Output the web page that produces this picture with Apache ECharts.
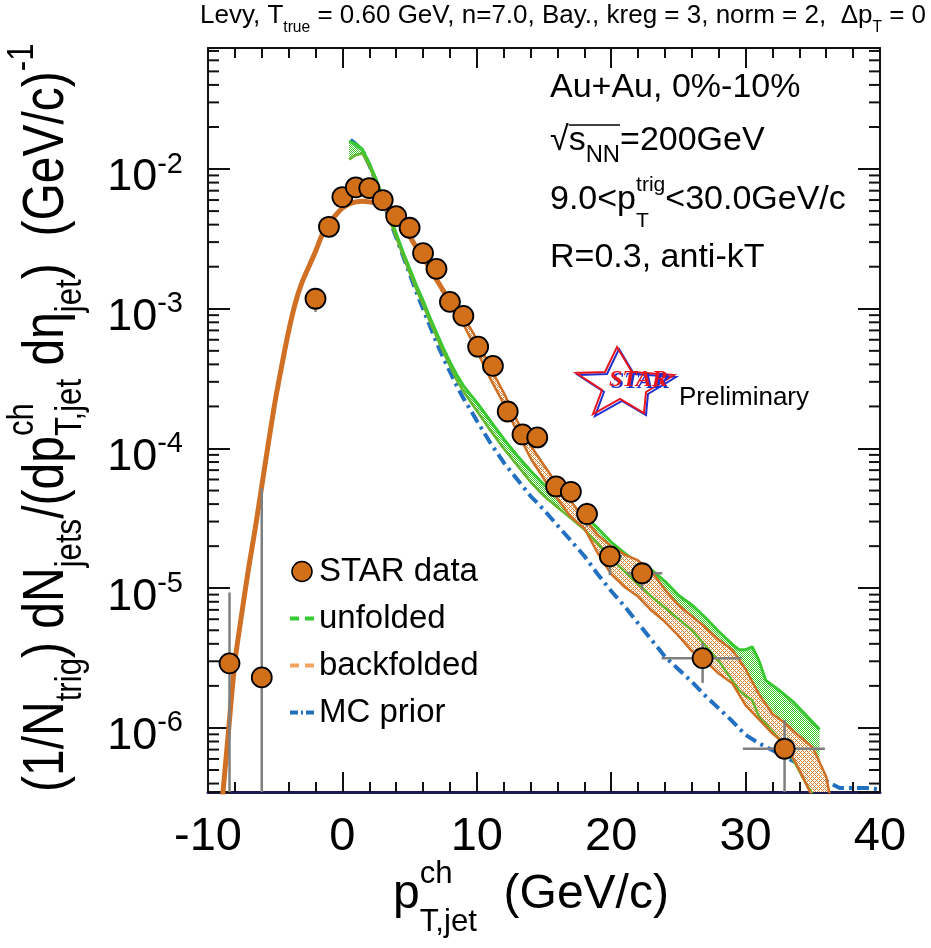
<!DOCTYPE html>
<html>
<head>
<meta charset="utf-8">
<title>STAR jet spectrum unfolding</title>
<script src="https://cdn.jsdelivr.net/npm/echarts@6.0.0/dist/echarts.min.js"></script>
<style>
html,body{margin:0;padding:0;background:#ffffff;}
#chart{width:931px;height:948px;}
</style>
</head>
<body>
<div id="chart"></div>
<script>
// ---------------- values ----------------
const xMin = -10, xMax = 40, xStep = 10;
const yMin = 3.48e-7, yMax = 7.35e-2;
const yTickExponents = [-6, -5, -4, -3, -2];

// STAR data points
const dataX = [-8.4, -6.0, -2.0, -1.0, 0.0, 1.0, 2.0, 3.0, 4.0, 5.0, 6.0, 7.0, 8.0, 9.0, 10.1, 11.2, 12.3, 13.4, 14.5, 15.9, 17.0, 18.2, 19.9, 22.3, 26.8, 32.9];
const dataY = [2.9e-6, 2.3e-6, 1.18e-3, 3.86e-3, 6.3e-3, 7.4e-3, 7.3e-3, 6.0e-3, 4.6e-3, 3.8e-3, 2.5e-3, 1.93e-3, 1.12e-3, 8.9e-4, 5.35e-4, 3.9e-4, 1.84e-4, 1.26e-4, 1.2e-4, 5.35e-5, 4.9e-5, 3.4e-5, 1.69e-5, 1.28e-5, 3.16e-6, 7.1e-7];
const errYLow  = [1e-8, 1e-8, 9.5e-4, null, null, null, null, null, null, null, null, null, null, null, null, null, null, null, null, null, null, 2.75e-5, 1.24e-5, 9.7e-6, 2.1e-6, 1e-8];
const errYHigh = [9.3e-6, 5.2e-5, 1.4e-3, null, null, null, null, null, null, null, null, null, null, null, null, null, null, null, null, null, null, 4.1e-5, 1.97e-5, 1.47e-5, 4.05e-6, 1.14e-6];
const errXLow  = [null, null, null, null, null, null, null, null, null, null, null, null, null, null, null, null, null, null, null, null, null, null, 19.1, 21.2, 23.75, 29.8];
const errXHigh = [null, null, null, null, null, null, null, null, null, null, null, null, null, null, null, null, null, null, null, null, null, null, 20.8, 23.8, 29.7, 35.9];

// backfolded: central curve
const backX = [-9.0, -8.5, -8.0, -7.5, -7.0, -6.5, -6.0, -5.5, -5.0, -4.5, -4.0, -3.5, -3.0, -2.5, -2.0, -1.5, -1.0, -0.5, 0.0, 0.5, 1.0, 1.5, 2.0, 2.5, 3.0, 3.5, 4.0, 4.5, 5.0, 5.5, 6.0, 6.5, 7.0, 7.5, 8.0, 8.5, 9.0];
const backY = [2.63e-7, 8.91e-7, 2.95e-6, 6.46e-6, 1.35e-5, 2.63e-5, 5.37e-5, 1.10e-4, 2.19e-4, 3.98e-4, 6.92e-4, 1.10e-3, 1.55e-3, 2.00e-3, 2.57e-3, 3.39e-3, 4.07e-3, 4.68e-3, 5.25e-3, 5.62e-3, 5.82e-3, 5.89e-3, 5.82e-3, 5.69e-3, 5.37e-3, 5.01e-3, 4.47e-3, 3.89e-3, 3.31e-3, 2.75e-3, 2.34e-3, 1.95e-3, 1.62e-3, 1.35e-3, 1.15e-3, 9.55e-4, 8.32e-4];
// backfolded: uncertainty band
const bandX    = [9, 10, 11, 12, 13, 14, 15, 16, 17, 18, 19, 20, 21, 22, 23, 24, 25, 26, 27, 28, 29, 30, 31, 32, 33, 34, 35, 36, 36.5];
const bandHigh = [8.91e-4, 6.03e-4, 3.80e-4, 2.51e-4, 1.58e-4, 1.05e-4, 7.59e-5, 5.50e-5, 4.17e-5, 3.16e-5, 2.40e-5, 2.00e-5, 1.74e-5, 1.58e-5, 1.32e-5, 9.77e-6, 7.59e-6, 6.31e-6, 5.25e-6, 4.27e-6, 3.63e-6, 2.63e-6, 1.74e-6, 1.26e-6, 1.07e-6, 8.71e-7, 7.24e-7, 4.47e-7, 2.51e-7];
const bandLow  = [7.76e-4, 5.01e-4, 3.16e-4, 2.09e-4, 1.32e-4, 8.51e-5, 6.03e-5, 4.37e-5, 3.24e-5, 2.69e-5, 1.78e-5, 1.26e-5, 1.02e-5, 8.71e-6, 6.92e-6, 5.75e-6, 4.57e-6, 3.55e-6, 3.02e-6, 2.45e-6, 2.09e-6, 1.45e-6, 1.15e-6, 9.12e-7, 7.59e-7, 5.01e-7, 3.16e-7, 2.00e-7, 1.58e-7];

// unfolded band
const unfX    = [0.5, 1, 1.5, 2, 2.5, 3, 3.5, 4, 4.5, 5, 5.5, 6, 6.5, 7, 7.5, 8, 8.5, 9, 9.5, 10, 11, 12, 13, 14, 15, 16, 17, 18, 19, 20, 21, 22, 23, 24, 25, 26, 27, 28, 29, 29.5, 30, 30.5, 31, 31.5, 32.5, 33.5, 34.5, 35.5];
const unfHigh = [1.58e-2, 1.51e-2, 1.38e-2, 1.10e-2, 8.51e-3, 6.31e-3, 4.68e-3, 3.47e-3, 2.57e-3, 1.95e-3, 1.48e-3, 1.15e-3, 8.71e-4, 6.76e-4, 5.25e-4, 4.17e-4, 3.39e-4, 2.82e-4, 2.45e-4, 2.14e-4, 1.58e-4, 1.17e-4, 8.91e-5, 6.92e-5, 5.50e-5, 4.68e-5, 3.80e-5, 3.31e-5, 2.69e-5, 2.14e-5, 1.78e-5, 1.51e-5, 1.35e-5, 1.12e-5, 8.91e-6, 7.59e-6, 6.17e-6, 4.90e-6, 3.98e-6, 3.63e-6, 3.63e-6, 3.80e-6, 3.02e-6, 2.19e-6, 1.86e-6, 1.55e-6, 1.23e-6, 9.77e-7];
const unfLow  = [1.17e-2, 1.26e-2, 1.29e-2, 1.05e-2, 7.94e-3, 5.89e-3, 4.37e-3, 3.24e-3, 2.40e-3, 1.82e-3, 1.38e-3, 1.07e-3, 8.13e-4, 6.31e-4, 4.90e-4, 3.89e-4, 3.09e-4, 2.57e-4, 2.19e-4, 1.86e-4, 1.35e-4, 1.00e-4, 7.59e-5, 5.75e-5, 4.57e-5, 3.80e-5, 3.16e-5, 2.63e-5, 2.09e-5, 1.62e-5, 1.32e-5, 1.07e-5, 8.71e-6, 7.24e-6, 6.03e-6, 5.01e-6, 3.89e-6, 3.02e-6, 2.19e-6, 1.86e-6, 1.70e-6, 1.58e-6, 1.20e-6, 1.07e-6, 8.32e-7, 6.03e-7, 3.98e-7, 2.82e-7];

// MC prior
const mcX = [0.6, 1, 1.5, 2, 2.5, 3, 3.5, 4, 4.5, 5, 5.5, 6, 6.5, 7, 7.5, 8, 8.5, 9, 9.5, 10, 11, 12, 13, 14, 15, 16, 17, 18, 19, 20, 21, 22, 23, 24, 25, 26, 27, 28, 29, 30, 31, 32, 33, 34, 35, 36, 37, 38, 39, 40];
const mcY = [1.62e-2, 1.51e-2, 1.35e-2, 1.07e-2, 8.13e-3, 6.03e-3, 4.37e-3, 3.24e-3, 2.40e-3, 1.78e-3, 1.32e-3, 1.00e-3, 7.59e-4, 5.75e-4, 4.47e-4, 3.55e-4, 2.82e-4, 2.29e-4, 1.91e-4, 1.58e-4, 1.10e-4, 7.94e-5, 6.03e-5, 4.57e-5, 3.63e-5, 2.82e-5, 2.19e-5, 1.70e-5, 1.26e-5, 9.55e-6, 7.41e-6, 5.62e-6, 4.27e-6, 3.24e-6, 2.63e-6, 2.14e-6, 1.70e-6, 1.38e-6, 1.12e-6, 8.91e-7, 7.76e-7, 6.92e-7, 6.17e-7, 5.50e-7, 4.79e-7, 4.17e-7, 3.72e-7, 3.72e-7, 3.72e-7, 3.63e-7];

// texts
const legendNames = ['STAR data', 'unfolded', 'backfolded', 'MC prior'];
const infoLine1 = 'Au+Au, 0%-10%';
const infoLine4 = 'R=0.3, anti-kT';

// ---------------- styling helpers ----------------
const FF = '"Liberation Sans", Arial, Helvetica, sans-serif';
const C_ORANGE = '#cf7024', C_DATA = '#d2701a', C_GREEN = '#38c830', C_BLUE = '#2170c2';
const mctx = document.createElement('canvas').getContext('2d');
function tw(t, size) { mctx.font = size + 'px ' + FF; return mctx.measureText(t).width; }

function mathGroup(pieces, F, x, y, rot, sy) {
  const ch = [];
  let cx = 0;
  const mk = (t, s, dy, atX) => {
    const size = F * s;
    ch.push({ type: 'text', x: atX, y: dy * F - 0.35 * size,
      style: { text: t, font: size + 'px ' + FF, fill: '#000', align: 'left', verticalAlign: 'middle', textAlign: 'left', textVerticalAlign: 'middle' } });
    return tw(t, size);
  };
  pieces.forEach(p => {
    if (p.stack) { let w = 0; p.stack.forEach(q => { w = Math.max(w, mk(q.t, q.s, q.dy, cx)); }); cx += w; }
    else { cx += mk(p.t, p.s || 1, p.dy || 0, cx); }
  });
  return { type: 'group', x: x, y: y, rotation: rot || 0, scaleY: sy || 1, children: ch, silent: true };
}

function pattern(color, kind) {
  const c = document.createElement('canvas'); c.width = 4; c.height = 4;
  const g = c.getContext('2d'); g.fillStyle = color;
  for (let yy = 0; yy < 4; yy++) for (let xx = 0; xx < 4; xx++) {
    if (kind === 'dots' ? ((xx + yy) % 2 === 0) : ((xx + yy) % 4 === 0 || (xx - yy + 4) % 4 === 0)) g.fillRect(xx, yy, 1, 1);
  }
  return { image: c, repeat: 'repeat' };
}
const greenFill = pattern('rgb(60,200,45)', 'dots');
const orangeFill = pattern('rgb(215,130,55)', 'cross');

function bandRenderer(xs, hi, lo, fill, opaque) {
  return function (params, api) {
    if (params.dataIndex !== 0) return null;
    const pts = [];
    for (let i = 0; i < xs.length; i++) pts.push(api.coord([xs[i], hi[i]]));
    for (let i = xs.length - 1; i >= 0; i--) pts.push(api.coord([xs[i], lo[i]]));
    const kids = [];
    if (opaque) kids.push({ type: 'polygon', shape: { points: pts }, style: { fill: '#ffffff', stroke: null } });
    kids.push({ type: 'polygon', shape: { points: pts }, style: { fill: fill, stroke: null } });
    return { type: 'group', children: kids };
  };
}
const pairs = (xs, ys) => xs.map((x, i) => [x, ys[i]]);

const minorTickVals = [];
for (let e = -7; e <= -2; e++) for (let m = 2; m <= 9; m++) {
  const v = m * Math.pow(10, e);
  if (v > yMin && v < yMax) minorTickVals.push(v);
}

// ---------------- annotations ----------------
const title = mathGroup([{ t: 'Levy, T' }, { t: 'true', s: 0.6, dy: 0.32 }, { t: ' = 0.60 GeV, n=7.0, Bay., kreg = 3, norm = 2,  Δp' }, { t: 'T', s: 0.6, dy: 0.32 }, { t: ' = 0' }], 26, 200, 25);
const info1 = mathGroup([{ t: infoLine1 }], 34, 550, 100);
const info2 = mathGroup([{ t: '√' }, { t: 's' }, { t: 'NN', s: 0.7, dy: 0.33 }, { t: '=200GeV' }], 34, 550, 153);
const sqrtX0 = 550 + tw('√', 34), sqrtX1 = sqrtX0 + tw('s', 34) + tw('NN', 34 * 0.7);
const info3 = mathGroup([{ t: '9.0<p' }, { stack: [{ t: 'trig', s: 0.62, dy: -0.56 }, { t: 'T', s: 0.62, dy: 0.5 }] }, { t: '<30.0GeV/c' }], 34, 550, 212);
const info4 = mathGroup([{ t: infoLine4 }], 34, 550, 270);
const xTitle = mathGroup([{ t: 'p' }, { stack: [{ t: 'ch', s: 0.65, dy: -0.55 }, { t: 'T,jet', s: 0.65, dy: 0.45 }] }, { t: '  (GeV/c)' }], 48, 393, 912);
const yTitle = mathGroup([
  { t: '(1/N' }, { t: 'trig', s: 0.65, dy: 0.3 }, { t: ') dN' }, { t: 'jets', s: 0.65, dy: 0.3 }, { t: '/(dp' },
  { stack: [{ t: 'ch', s: 0.65, dy: -0.55 }, { t: 'T,jet', s: 0.65, dy: 0.3 }] }, { t: ' dη' }, { t: 'jet', s: 0.65, dy: 0.3 },
  { t: ')  (GeV/c)' }, { t: '-1', s: 0.65, dy: -0.55 }], 48, 67, 792, Math.PI / 2, 1.2);

const starOuter = [[617, 347], [632, 372], [674, 375], [646, 392], [644, 413], [620, 399], [593, 414], [602, 390], [576, 373], [605, 372]];
const starFont = 'italic bold 24px "Liberation Serif", serif';
const starGraphics = [
  { type: 'polygon', shape: { points: starOuter.map(p => [p[0] + 2, p[1] + 2]) }, style: { fill: null, stroke: '#1f2fd0', lineWidth: 2 }, silent: true },
  { type: 'polygon', shape: { points: starOuter }, style: { fill: null, stroke: '#e8151d', lineWidth: 2 }, silent: true },
  { type: 'text', x: 611, y: 382, style: { text: 'STAR', font: starFont, fill: '#1f2fd0', align: 'left', verticalAlign: 'middle', textAlign: 'left', textVerticalAlign: 'middle' }, silent: true },
  { type: 'text', x: 609, y: 380, style: { text: 'STAR', font: starFont, fill: '#e8151d', align: 'left', verticalAlign: 'middle', textAlign: 'left', textVerticalAlign: 'middle' }, silent: true },
  { type: 'text', x: 679, y: 398, style: { text: 'Preliminary', font: '26px ' + FF, fill: '#000', align: 'left', verticalAlign: 'middle', textAlign: 'left', textVerticalAlign: 'middle' }, silent: true }
];

// ---------------- chart ----------------
const chart = echarts.init(document.getElementById('chart'), null, { renderer: 'canvas' });
const tickLine = { color: '#111', width: 2 };
const option = {
  animation: false,
  backgroundColor: '#ffffff',
  textStyle: { fontFamily: FF },
  grid: { left: 208, right: 51, top: 48, bottom: 156, containLabel: false, outerBoundsMode: 'none' },
  xAxis: [
    { type: 'value', min: xMin, max: xMax, interval: xStep, position: 'bottom',
      axisLine: { show: true, onZero: false, lineStyle: { color: '#1c1c50', width: 3 } },
      axisTick: { show: true, inside: true, length: 20, lineStyle: tickLine },
      minorTick: { show: true, splitNumber: 5, length: 10, lineStyle: tickLine },
      axisLabel: { show: true, fontSize: 47, lineHeight: 47, color: '#000', margin: 22, fontFamily: FF },
      splitLine: { show: false }, minorSplitLine: { show: false } },
    { type: 'value', min: xMin, max: xMax, interval: xStep, position: 'top',
      axisLine: { show: true, onZero: false, lineStyle: { color: '#111', width: 2 } },
      axisTick: { show: true, inside: true, length: 20, lineStyle: tickLine },
      minorTick: { show: true, splitNumber: 5, length: 10, lineStyle: tickLine },
      axisLabel: { show: false }, splitLine: { show: false }, minorSplitLine: { show: false } }
  ],
  yAxis: [
    { type: 'log', min: yMin, max: yMax, logBase: 10, position: 'left',
      axisLine: { show: true, onZero: false, lineStyle: { color: '#111', width: 2 } },
      axisTick: { show: true, inside: true, length: 22, lineStyle: tickLine },
      minorTick: { show: false },
      axisLabel: { show: true, margin: 25, color: '#000', padding: [18, 0, 0, 0],
        formatter: function (v) {
          const l = Math.log10(v), e = Math.round(l);
          if (Math.abs(l - e) > 1e-6 || yTickExponents.indexOf(e) < 0) return '';
          return '{b|10}{s|' + e + '}';
        },
        rich: { b: { fontSize: 45, lineHeight: 56, color: '#000', fontFamily: FF },
                s: { fontSize: 29, lineHeight: 29, color: '#000', fontFamily: FF, verticalAlign: 'top' } } },
      splitLine: { show: false } },
    { type: 'log', min: yMin, max: yMax, logBase: 10, position: 'right',
      axisLine: { show: true, onZero: false, lineStyle: { color: '#111', width: 2 } },
      axisTick: { show: true, inside: true, length: 22, lineStyle: tickLine },
      minorTick: { show: false }, axisLabel: { show: false }, splitLine: { show: false } }
  ],
  legend: {
    orient: 'vertical', left: 285, top: 550, itemWidth: 24, itemHeight: 20, itemGap: 14,
    selectedMode: false,
    textStyle: { fontSize: 33, color: '#000', fontFamily: FF },
    data: [
      { name: legendNames[0], icon: 'circle', itemStyle: { color: C_DATA, borderColor: '#000', borderWidth: 1.5 } },
      { name: legendNames[1], icon: 'path://M0,0H9V4H0ZM15,0H24V4H15Z', itemStyle: { color: '#33cc33', borderWidth: 0 } },
      { name: legendNames[2], icon: 'path://M0,0H9V4H0ZM15,0H24V4H15Z', itemStyle: { color: '#f4a460', borderWidth: 0 } },
      { name: legendNames[3], icon: 'path://M0,0H8V4H0ZM11,0H13V4H11ZM16,0H24V4H16Z', itemStyle: { color: C_BLUE, borderWidth: 0 } }
    ]
  },
  graphic: { elements: [title, info1, info2, info3, info4,
    { type: 'line', shape: { x1: sqrtX0, y1: 125, x2: sqrtX1, y2: 125 }, style: { stroke: '#000', lineWidth: 1.5 }, silent: true },
    xTitle, yTitle].concat(starGraphics) },
  series: [
    { name: legendNames[3], type: 'line', data: pairs(mcX, mcY), showSymbol: false, symbol: 'none', clip: true,
      lineStyle: { color: C_BLUE, width: 4, type: [12, 5, 3, 5] }, itemStyle: { color: C_BLUE }, z: 2 },
    { name: legendNames[1], type: 'custom', renderItem: bandRenderer(unfX, unfHigh, unfLow, greenFill, false), clip: true,
      data: unfX.map((x, i) => [x, unfHigh[i], unfLow[i]]), encode: { x: 0, y: [1, 2] }, itemStyle: { color: C_GREEN }, z: 3 },
    { name: legendNames[1], type: 'line', data: pairs(unfX, unfHigh), showSymbol: false, symbol: 'none', clip: true,
      lineStyle: { color: C_GREEN, width: 3 }, itemStyle: { color: C_GREEN }, z: 4 },
    { name: legendNames[2], type: 'custom', renderItem: bandRenderer(bandX, bandHigh, bandLow, orangeFill, true), clip: true,
      data: bandX.map((x, i) => [x, bandHigh[i], bandLow[i]]), encode: { x: 0, y: [1, 2] }, itemStyle: { color: C_ORANGE }, z: 5 },
    { name: legendNames[1], type: 'line', data: pairs(unfX, unfLow), showSymbol: false, symbol: 'none', clip: true,
      lineStyle: { color: '#62b82c', width: 2.5 }, itemStyle: { color: C_GREEN }, z: 6 },
    { name: legendNames[2], type: 'line', data: pairs(bandX, bandHigh), showSymbol: false, symbol: 'none', clip: true,
      lineStyle: { color: C_ORANGE, width: 2.5 }, itemStyle: { color: C_ORANGE }, z: 6 },
    { name: legendNames[2], type: 'line', data: pairs(bandX, bandLow), showSymbol: false, symbol: 'none', clip: true,
      lineStyle: { color: C_ORANGE, width: 2.5 }, itemStyle: { color: C_ORANGE }, z: 6 },
    { name: legendNames[2], type: 'line', data: pairs(backX, backY), showSymbol: false, symbol: 'none', clip: true, smooth: 0.3,
      lineStyle: { color: C_ORANGE, width: 5 }, itemStyle: { color: C_ORANGE }, z: 6 },
    { name: 'errors', type: 'custom', clip: true, z: 7, data: pairs(dataX, dataY), encode: { x: 0, y: 1 },
      renderItem: function (params, api) {
        const i = params.dataIndex, ch = [];
        const st = { stroke: '#7f7f7f', lineWidth: 2.5 };
        if (errYLow[i] != null) {
          const a = api.coord([dataX[i], errYLow[i]]), b = api.coord([dataX[i], errYHigh[i]]);
          ch.push({ type: 'line', shape: { x1: a[0], y1: a[1], x2: b[0], y2: b[1] }, style: st });
        }
        if (errXLow[i] != null) {
          const a = api.coord([errXLow[i], dataY[i]]), b = api.coord([errXHigh[i], dataY[i]]);
          ch.push({ type: 'line', shape: { x1: a[0], y1: a[1], x2: b[0], y2: b[1] }, style: st });
        }
        return { type: 'group', children: ch };
      } },
    { name: legendNames[0], type: 'scatter', data: pairs(dataX, dataY), symbol: 'circle', symbolSize: 20, clip: true,
      itemStyle: { color: C_DATA, borderColor: '#000', borderWidth: 1.8, opacity: 1 }, z: 8 },
    { name: 'minorTicks', type: 'custom', silent: true, z: 9, data: minorTickVals.map(v => [xMin, v]), encode: { x: 0, y: 1 },
      renderItem: function (params, api) {
        const p = api.coord([xMin, api.value(1)]);
        const cs = params.coordSys;
        return { type: 'group', children: [
          { type: 'line', shape: { x1: cs.x, y1: p[1], x2: cs.x + 11, y2: p[1] }, style: { stroke: '#111', lineWidth: 2 } },
          { type: 'line', shape: { x1: cs.x + cs.width - 11, y1: p[1], x2: cs.x + cs.width, y2: p[1] }, style: { stroke: '#111', lineWidth: 2 } }
        ] };
      } }
  ]
};
chart.setOption(option);
</script>
</body>
</html>
